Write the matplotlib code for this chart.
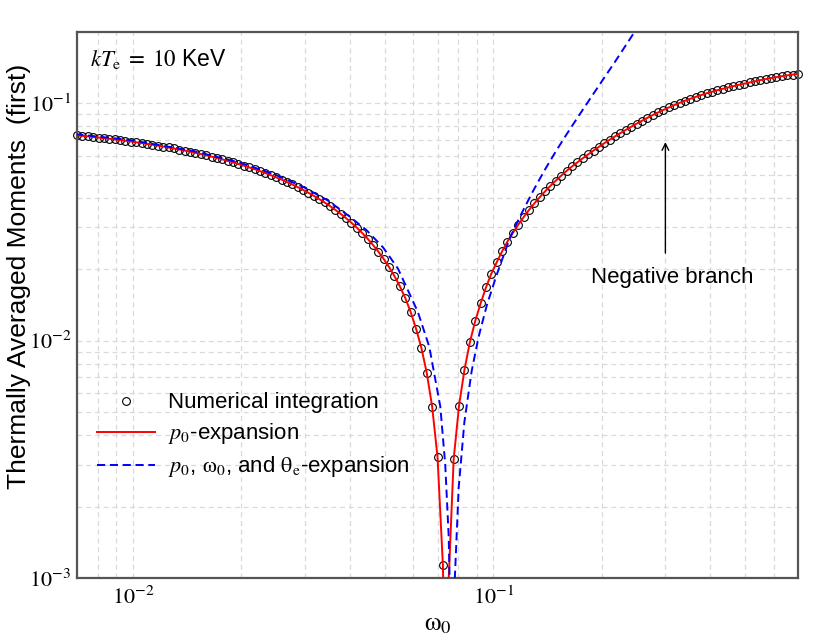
import matplotlib
matplotlib.use('Agg')
import matplotlib.pyplot as plt
from matplotlib.lines import Line2D
from matplotlib.ticker import NullFormatter
import numpy as np

plt.rcParams['font.family'] = ['Liberation Sans', 'DejaVu Sans']
plt.rcParams['mathtext.fontset'] = 'stix'

# photon energy grid of the numerical integration
omega = np.array([
    0.007000, 0.007245, 0.007498, 0.007760, 0.008032, 0.008312, 0.008603, 0.008904, 0.009215, 0.009537,
    0.009871, 0.01022, 0.01057, 0.01094, 0.01133, 0.01172, 0.01213, 0.01256, 0.01299, 0.01345,
    0.01392, 0.01441, 0.01491, 0.01543, 0.01597, 0.01653, 0.01711, 0.01770, 0.01832, 0.01896,
    0.01963, 0.02031, 0.02102, 0.02176, 0.02252, 0.02331, 0.02412, 0.02496, 0.02584, 0.02674,
    0.02768, 0.02864, 0.02964, 0.03068, 0.03175, 0.03286, 0.03401, 0.03520, 0.03643, 0.03771,
    0.03903, 0.04039, 0.04180, 0.04326, 0.04478, 0.04634, 0.04796, 0.04964, 0.05137, 0.05317,
    0.05503, 0.05695, 0.05895, 0.06101, 0.06314, 0.06535, 0.06763, 0.07000, 0.07244, 0.07498,
    0.07760, 0.08031, 0.08312, 0.08602, 0.08903, 0.09215, 0.09537, 0.09870, 0.1022, 0.1057,
    0.1094, 0.1132, 0.1172, 0.1213, 0.1255, 0.1299, 0.1345, 0.1392, 0.1440, 0.1491,
    0.1543, 0.1597, 0.1653, 0.1711, 0.1770, 0.1832, 0.1896, 0.1963, 0.2031, 0.2102,
    0.2176, 0.2252, 0.2331, 0.2412, 0.2496, 0.2584, 0.2674, 0.2767, 0.2864, 0.2964,
    0.3068, 0.3175, 0.3286, 0.3401, 0.3520, 0.3643, 0.3770, 0.3902, 0.4039, 0.4180,
    0.4326, 0.4477, 0.4634, 0.4796, 0.4964, 0.5137, 0.5317, 0.5503, 0.5695, 0.5894,
    0.6100, 0.6314, 0.6534, 0.6763, 0.6999])

# |first moment| from numerical integration (right of the dip: negative branch)
numerical = np.array([
    0.07338, 0.07301, 0.07263, 0.07223, 0.07182, 0.07140, 0.07097, 0.07051, 0.07005, 0.06958,
    0.06908, 0.06858, 0.06805, 0.06752, 0.06696, 0.06640, 0.06581, 0.06520, 0.06458, 0.06393,
    0.06328, 0.06260, 0.06191, 0.06119, 0.06044, 0.05969, 0.05891, 0.05810, 0.05729, 0.05644,
    0.05557, 0.05467, 0.05376, 0.05283, 0.05186, 0.05087, 0.04986, 0.04882, 0.04776, 0.04667,
    0.04555, 0.04440, 0.04323, 0.04203, 0.04080, 0.03955, 0.03826, 0.03695, 0.03561, 0.03423,
    0.03284, 0.03141, 0.02994, 0.02844, 0.02691, 0.02534, 0.02374, 0.02209, 0.02042, 0.01871,
    0.01695, 0.01514, 0.01322, 0.01125, 0.00932, 0.00731, 0.00528, 0.00323, 0.00113, 0.00090,
    0.00317, 0.00533, 0.00753, 0.00983, 0.01209, 0.01435, 0.01676, 0.01915, 0.02143, 0.02378,
    0.02617, 0.02845, 0.03081, 0.03315, 0.03551, 0.03789, 0.04024, 0.04263, 0.04495, 0.04732,
    0.04964, 0.05198, 0.05424, 0.05648, 0.05872, 0.06099, 0.06330, 0.06565, 0.06798, 0.07030,
    0.07265, 0.07500, 0.07737, 0.07974, 0.08216, 0.08456, 0.08694, 0.08931, 0.09164, 0.09393,
    0.09619, 0.09840, 0.10057, 0.10269, 0.10466, 0.10660, 0.10848, 0.11029, 0.11202, 0.11367,
    0.11525, 0.11677, 0.11828, 0.11974, 0.12115, 0.12258, 0.12398, 0.12535, 0.12668, 0.12795,
    0.12914, 0.13025, 0.13130, 0.13233, 0.13330])

# p0-expansion: follows the numerical points, extra samples near the zero crossing
p0_dip_omega = [0.07323, 0.07356, 0.07404, 0.07444]
p0_dip_value = [0.0005, 0.0002, 0.0002, 0.0005]

# p0, omega0 and theta_e expansion
full_omega = [0.00692, 0.00989, 0.01484, 0.01978, 0.02473, 0.02967, 0.03462, 0.03956,
              0.04451, 0.04946, 0.05440, 0.06173, 0.06641, 0.07126, 0.07353, 0.07517,
              0.07616, 0.07656, 0.07695, 0.07735, 0.07814, 0.08012, 0.08309, 0.08704,
              0.09100, 0.09594, 0.10188, 0.10880, 0.11147, 0.11869, 0.12859, 0.13848,
              0.14837, 0.15826, 0.16815, 0.17804, 0.18793, 0.19782, 0.21761, 0.23739, 0.25717]
full_value = [0.0742, 0.0700, 0.0628, 0.0563, 0.0502, 0.0445, 0.0391, 0.0337,
              0.0292, 0.0247, 0.0201, 0.01322, 0.00942, 0.00527, 0.0030, 0.0015,
              0.0006, 0.00017, 0.00014, 0.00042, 0.00098, 0.0024, 0.00454, 0.00744,
              0.01039, 0.01414, 0.01875, 0.0248, 0.0274, 0.0335, 0.0425, 0.0521,
              0.0621, 0.0726, 0.0836, 0.0953, 0.1078, 0.1210, 0.1500, 0.1835, 0.221]

x_limits = (0.007, 0.7)
y_limits = (1e-3, 0.2)

fig = plt.figure(figsize=(8.3, 6.42), dpi=100)
ax = fig.add_axes([0.0928, 0.0997, 0.8687, 0.8505])
ax.set_xscale('log')
ax.set_yscale('log')
ax.set_xlim(*x_limits)
ax.set_ylim(*y_limits)

ax.grid(True, which='both', color='#dadada', linestyle=(0, (4, 3)), linewidth=0.9)
ax.set_axisbelow(True)

# red line through numerical points plus the dip samples
p0_omega = np.concatenate([omega, p0_dip_omega])
p0_value = np.concatenate([numerical, p0_dip_value])
order = np.argsort(p0_omega)
ax.plot(p0_omega[order], p0_value[order], color='red', lw=1.4, zorder=3)
ax.plot(full_omega, full_value, color='blue', lw=1.4, dashes=(4.2, 2.4), zorder=4)

shown = numerical >= y_limits[0]
ax.plot(omega[shown], numerical[shown], ls='none', marker='o', ms=5.6,
        mfc='none', mec='black', mew=0.8, zorder=2, clip_on=False)

ax.set_xticks([1e-2, 1e-1])
ax.set_xticklabels([r'$10^{-2}$', r'$10^{-1}$'])
ax.set_yticks([1e-3, 1e-2, 1e-1])
ax.set_yticklabels([r'$10^{-3}$', r'$10^{-2}$', r'$10^{-1}$'])
ax.xaxis.set_minor_formatter(NullFormatter())
ax.yaxis.set_minor_formatter(NullFormatter())
ax.tick_params(which='both', length=0, labelsize=16)
ax.tick_params(axis='x', pad=6)
ax.tick_params(axis='y', pad=4)

for sp in ax.spines.values():
    sp.set_color('#555555')
    sp.set_linewidth(1.6)

ax.set_xlabel(r'$\mathrm{\omega}_0$', fontsize=19, labelpad=2)
ax.set_ylabel('Thermally Averaged Moments  (first)', fontsize=19)
ax.yaxis.set_label_coords(-0.064, 0.553)

ax.text(0.0185, 0.938, r'$kT_{\rm e}\;=\;10$ KeV', transform=ax.transAxes,
        fontsize=16.5, va='baseline')
ax.text(0.3133, 0.01747, 'Negative branch', ha='center', va='baseline', fontsize=16)
ax.annotate('', xy=(0.3, 0.0687), xytext=(0.3, 0.0234),
            arrowprops=dict(arrowstyle='->', color='black', lw=1.0,
                            shrinkA=0, shrinkB=0, mutation_scale=12))

handles = [
    Line2D([], [], ls='none', marker='o', ms=5.6, mfc='none', mec='black', mew=0.8),
    Line2D([], [], color='red', lw=1.4),
    Line2D([], [], color='blue', lw=1.4, dashes=(4.2, 2.4)),
]
labels = ['Numerical integration', r'$p_0$-expansion',
          r'$p_0$, $\mathrm{\omega}_0$, and $\mathrm{\theta}_{\rm e}$-expansion']
ax.legend(handles, labels, loc='upper left', bbox_to_anchor=(0.028, 0.34),
          borderaxespad=0, borderpad=0, handlelength=2.6, handletextpad=0.6,
          labelspacing=0.36, frameon=False, fontsize=16)

fig.savefig('out.png', dpi=100)
